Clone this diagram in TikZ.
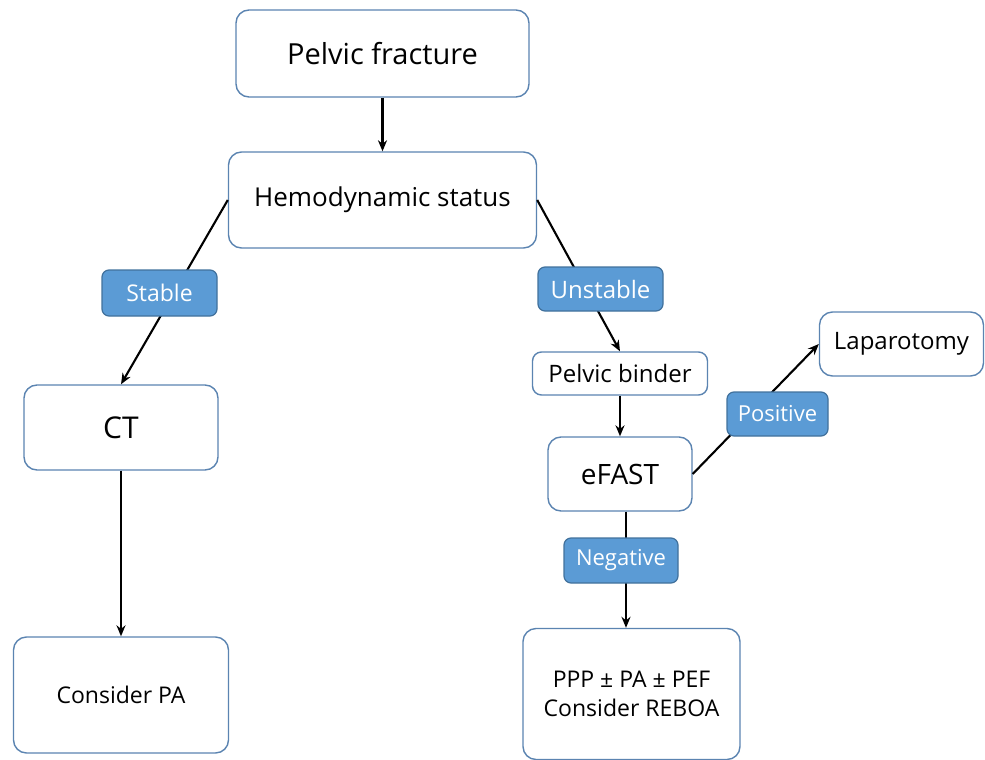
\documentclass[tikz,border=0pt]{standalone}
\usepackage{fontspec}
\setmainfont{Open Sans}
\usetikzlibrary{arrows.meta}
\definecolor{boxline}{HTML}{5B84B1}
\definecolor{lblfill}{HTML}{5B9BD5}
\definecolor{lblline}{HTML}{41719C}
\tikzset{
  whitebox/.style={draw=boxline, line width=1.4pt, fill=white, rounded corners=13pt, inner sep=0pt, align=center, text=black},
  lblbox/.style={draw=lblline, line width=1.2pt, fill=lblfill, rounded corners=7pt, inner sep=0pt, text=white},
  conn/.style={line width=2.1pt, black},
  arr/.style={conn, -{Stealth[length=11pt,width=9pt]}},
  fs/.style={font=\fontsize{#1}{#1}\selectfont}
}
\begin{document}
\begin{tikzpicture}[x=1pt,y=-1pt]
\useasboundingbox (0,0) rectangle (985,760);
% boxes
\node[whitebox, minimum width=293, minimum height=87, fs=29] (pelvic) at (382.5,53.5) {Pelvic fracture};
\node[whitebox, minimum width=308, minimum height=96, fs=26] (hemo) at (382.5,200) {Hemodynamic status};
\node[whitebox, minimum width=194, minimum height=85, fs=30] (ct) at (121,427.5) {CT};
\node[whitebox, minimum width=215, minimum height=116, fs=23] (cpa) at (121,695) {Consider PA};
\node[whitebox, minimum width=175, minimum height=43, rounded corners=9pt, fs=24] (binder) at (620,373.5) {Pelvic binder};
\node[whitebox, minimum width=144, minimum height=74, fs=28] (efast) at (620,474) {eFAST};
\node[whitebox, minimum width=164, minimum height=64, fs=24] (lap) at (901.5,344) {Laparotomy};
\node[whitebox, minimum width=217, minimum height=131, font=\fontsize{23}{29}\selectfont] (ppp) at (631.5,694) {PPP ± PA ± PEF\\Consider REBOA};
% connectors
\draw[arr] (pelvic) -- (hemo);
\draw[arr] (hemo.west) -- (ct.north);
\draw[arr] (hemo.east) -- (binder.north);
\draw[arr] (binder) -- (efast);
\draw[arr] (ct) -- (cpa);
\draw[arr] (efast.east) -- (lap.west);
\draw[arr] ([xshift=6pt]efast.south) -- ([xshift=-5.5pt]ppp.north);
% labels
\node[lblbox, minimum width=115, minimum height=46, fs=23] (stable) at (159.5,293) {Stable};
\node[lblbox, minimum width=125, minimum height=44, fs=24] (unstable) at (600.5,289) {Unstable};
\node[lblbox, minimum width=101, minimum height=44, fs=22] (positive) at (777.5,414) {Positive};
\node[lblbox, minimum width=114, minimum height=45, fs=22] (negative) at (621,560.5) {Negative};
\end{tikzpicture}
\end{document}
